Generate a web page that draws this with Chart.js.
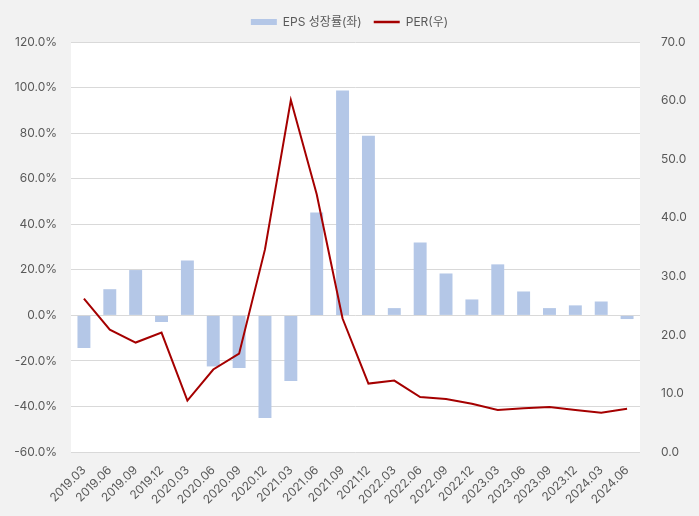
<!DOCTYPE html>
<html>
<head>
<meta charset="utf-8">
<script src="https://cdn.jsdelivr.net/npm/chart.js@4.4.1/dist/chart.umd.min.js"></script>
<style>
  html, body { margin: 0; padding: 0; background: #f2f2f2; }
  #wrap { width: 699px; height: 516px; }
</style>
</head>
<body>
<div id="wrap"><canvas id="chart"></canvas></div>
<script>
// quarters
const labels = ['2019.03', '2019.06', '2019.09', '2019.12', '2020.03', '2020.06', '2020.09', '2020.12',
  '2021.03', '2021.06', '2021.09', '2021.12', '2022.03', '2022.06', '2022.09', '2022.12',
  '2023.03', '2023.06', '2023.09', '2023.12', '2024.03', '2024.06'];

// EPS growth (%), left axis
const epsGrowth = [-14.3, 11.5, 19.9, -2.9, 24.1, -22.4, -23.1, -45.0, -28.8, 45.2, 98.7, 78.9,
  3.2, 32.0, 18.4, 7.0, 22.4, 10.5, 3.2, 4.4, 6.1, -1.6];

// PER, right axis
const per = [26.2, 20.9, 18.7, 20.4, 8.8, 14.1, 16.8, 34.6, 60.1, 44.0, 22.8, 11.7,
  12.2, 9.4, 9.05, 8.25, 7.2, 7.5, 7.7, 7.2, 6.7, 7.4];

const leftTicks = { min: -60, max: 120, step: 20 };
const rightTicks = { min: 0, max: 70, step: 10 };

const FONT = "Inter, 'Noto Sans CJK KR', sans-serif";
const TEXT = '#595959';
const GRID = '#d9d9d9';

// white plot area on grey page
const plotBg = {
  id: 'plotBg',
  beforeDraw(chart) {
    const a = chart.chartArea;
    const ctx = chart.ctx;
    ctx.save();
    ctx.fillStyle = '#ffffff';
    ctx.fillRect(a.left, a.top, a.right - a.left, a.bottom - a.top);
    ctx.restore();
  }
};

// a bit more room under the legend
const legendGap = {
  id: 'legendGap',
  afterInit(chart) {
    const fit = chart.legend.fit;
    chart.legend.fit = function() {
      fit.call(this);
      this.height += 4;
    };
  }
};

const ctx = document.getElementById('chart').getContext('2d');
new Chart(ctx, {
  type: 'bar',
  data: {
    labels: labels,
    datasets: [{
      type: 'bar',
      label: 'EPS 성장률(좌)',
      data: epsGrowth,
      backgroundColor: '#b4c7e7',
      borderWidth: 0,
      barPercentage: 0.5,
      categoryPercentage: 1.0,
      yAxisID: 'y',
      order: 2
    }, {
      type: 'line',
      label: 'PER(우)',
      data: per,
      borderColor: '#a50000',
      backgroundColor: '#a50000',
      borderWidth: 2,
      pointRadius: 0,
      tension: 0,
      yAxisID: 'y1',
      order: 1
    }]
  },
  options: {
    responsive: true,
    maintainAspectRatio: false,
    animation: false,
    layout: { padding: { top: 4, right: 0, left: 0, bottom: 6 } },
    plugins: {
      legend: {
        position: 'top',
        labels: {
          color: TEXT,
          font: { family: FONT, size: 12 },
          usePointStyle: true,
          pointStyleWidth: 26,
          boxHeight: 6,
          padding: 12,
          sort: (a, b) => a.datasetIndex - b.datasetIndex,
          generateLabels(chart) {
            const items = Chart.defaults.plugins.legend.labels.generateLabels(chart);
            items.forEach(it => {
              if (it.datasetIndex === 0) {
                it.pointStyle = 'rect';
                it.lineWidth = 0;
              } else {
                it.pointStyle = 'line';
                it.lineWidth = 2.5;
              }
            });
            return items;
          }
        }
      },
      tooltip: { enabled: false }
    },
    scales: {
      x: {
        grid: { display: false },
        border: { display: false },
        ticks: {
          color: TEXT,
          font: { family: FONT, size: 12 },
          minRotation: 45,
          maxRotation: 45,
          autoSkip: false
        }
      },
      y: {
        position: 'left',
        min: leftTicks.min,
        max: leftTicks.max,
        afterFit(scale) { scale.width = 71; },
        grid: { color: GRID, lineWidth: 1, drawTicks: false },
        border: { display: false },
        ticks: {
          stepSize: leftTicks.step,
          color: TEXT,
          font: { family: FONT, size: 12 },
          padding: 14,
          callback: v => v.toFixed(1) + '%'
        }
      },
      y1: {
        position: 'right',
        min: rightTicks.min,
        max: rightTicks.max,
        afterFit(scale) { scale.width = 59; },
        grid: { display: false },
        border: { display: false },
        ticks: {
          stepSize: rightTicks.step,
          color: TEXT,
          font: { family: FONT, size: 12 },
          padding: 13,
          callback: v => v.toFixed(1)
        }
      }
    }
  },
  plugins: [plotBg, legendGap]
});
</script>
</body>
</html>
